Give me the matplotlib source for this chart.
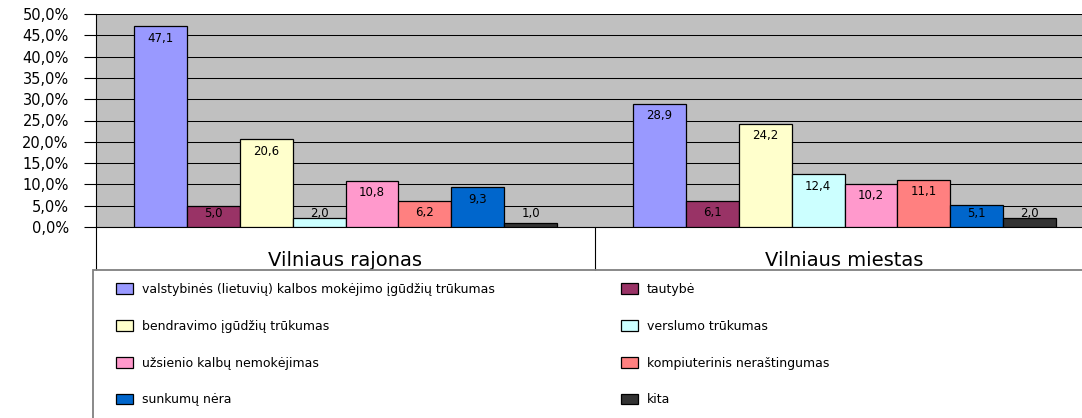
import matplotlib
matplotlib.use('Agg')
import matplotlib.pyplot as plt
from matplotlib.patches import Patch, Rectangle
from matplotlib.ticker import FuncFormatter

# duomenys
categories = ['Vilniaus rajonas', 'Vilniaus miestas']
series_names = [
    'valstybinės (lietuvių) kalbos mokėjimo įgūdžių trūkumas',
    'tautybė',
    'bendravimo įgūdžių trūkumas',
    'verslumo trūkumas',
    'užsienio kalbų nemokėjimas',
    'kompiuterinis neraštingumas',
    'sunkumų nėra',
    'kita',
]
rajonas = [47.1, 5.0, 20.6, 2.0, 10.8, 6.2, 9.3, 1.0]
miestas = [28.9, 6.1, 24.2, 12.4, 10.2, 11.1, 5.1, 2.0]
colors = ['#9999FF', '#993366', '#FFFFCC', '#CCFFFF',
          '#FF99CC', '#FF8080', '#0066CC', '#333333']
y_ticks = [0, 5, 10, 15, 20, 25, 30, 35, 40, 45, 50]

plt.rcParams['font.family'] = ['DejaVu Sans']

W, H = 1082, 418
fig = plt.figure(figsize=(W / 100, H / 100), dpi=100)
# plot area spans beyond the right edge like in the original
ax = fig.add_axes([96 / W, 1 - 227 / H, 998 / W, 213 / H])
ax.set_facecolor('#C0C0C0')

n = len(series_names)
bw = 0.106
values = [rajonas, miestas]
for i in range(n):
    xs = [c + (i - (n - 1) / 2) * bw for c in range(len(categories))]
    vals = [v[i] for v in values]
    ax.bar(xs, vals, width=bw, color=colors[i], edgecolor='black',
           linewidth=0.9, zorder=3)
    for x, v in zip(xs, vals):
        ax.text(x, max(v - 2.8, 3.2), f'{v:.1f}'.replace('.', ','),
                ha='center', va='center', fontsize=8.5, color='black', zorder=4)

ax.set_xlim(-0.5, 1.5)
ax.set_ylim(0, 50)
ax.set_yticks(y_ticks)
ax.yaxis.set_major_formatter(FuncFormatter(lambda v, p: f'{v:.1f}%'.replace('.', ',')))
ax.tick_params(axis='y', direction='out', length=8.6, width=0.8, pad=11,
               labelsize=10.5, color='black')
ax.yaxis.grid(True, color='black', linewidth=0.75, zorder=1)
ax.set_axisbelow(True)

# category boxes below the axis
ax.set_xticks([-0.5, 0.5, 1.5])
ax.set_xticklabels([])
ax.tick_params(axis='x', which='major', direction='out', length=31, width=0.8)
ax.set_xticks([0, 1], minor=True)
ax.set_xticklabels(categories, minor=True, fontsize=14)
ax.tick_params(axis='x', which='minor', length=0, pad=17)

for s in ['top', 'right']:
    ax.spines[s].set_visible(False)
ax.spines['left'].set_linewidth(0.8)
ax.spines['bottom'].set_linewidth(0.8)

# legend frame
fig.patches.append(Rectangle((93 / W, -0.2), 1.2, 1 - 270 / H + 0.2,
                             transform=fig.transFigure, fill=False,
                             edgecolor='#808080', linewidth=1.3))

handles = [Patch(facecolor=c, edgecolor='black', linewidth=0.9) for c in colors]
leg_kw = dict(loc='upper left', frameon=False, fontsize=9, borderpad=0,
              borderaxespad=0, handlelength=1.36, handleheight=0.96,
              handletextpad=0.72, labelspacing=1.9)
leg1 = fig.legend(handles[0::2], series_names[0::2],
                  bbox_to_anchor=(116 / W, 1 - 283 / H), **leg_kw)
leg2 = fig.legend(handles[1::2], series_names[1::2],
                  bbox_to_anchor=(621 / W, 1 - 283 / H), **leg_kw)

fig.savefig('out.png', dpi=100)
